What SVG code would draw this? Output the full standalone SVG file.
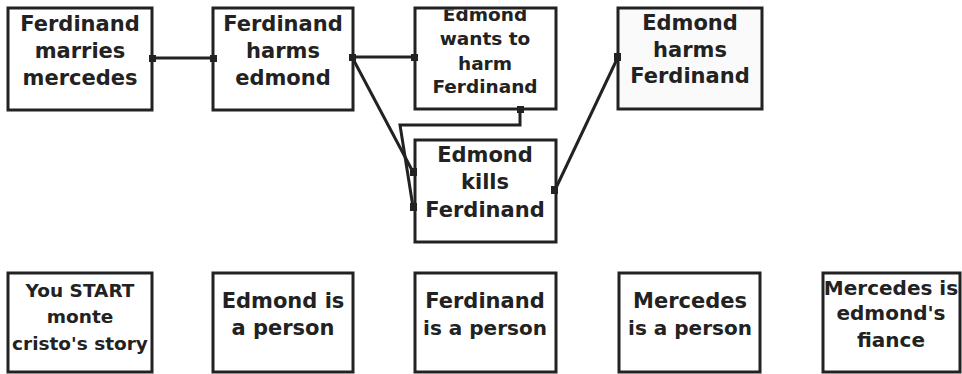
<svg xmlns="http://www.w3.org/2000/svg" width="962" height="374" viewBox="0 0 962 374">
  <style>
    .box { fill: #ffffff; stroke: #222222; stroke-width: 3; }
    .lbl { font-family: "DejaVu Sans", "Liberation Sans", sans-serif; font-weight: bold; font-size: 21px; fill: #222222; text-anchor: middle; }
    .sm { font-size: 18.5px; }
    .md { font-size: 20px; }
    .wire { fill: none; stroke: #222222; stroke-width: 3; stroke-linejoin: miter; }
    .pin { fill: #222222; }
  </style>
  <defs>
    <clipPath id="clip-wants">
      <rect x="416" y="9.5" width="139" height="98"/>
    </clipPath>
  </defs>
  <rect width="962" height="374" fill="#ffffff"/>

  <g id="node-marries">
    <rect class="box" x="8" y="8" width="144" height="102"/>
    <text class="lbl" x="80" y="31">Ferdinand</text>
    <text class="lbl" x="80" y="58">marries</text>
    <text class="lbl" x="80" y="85">mercedes</text>
  </g>

  <g id="node-harms-edmond">
    <rect class="box" x="213" y="8" width="140" height="102"/>
    <text class="lbl" x="283" y="31">Ferdinand</text>
    <text class="lbl" x="283" y="58">harms</text>
    <text class="lbl" x="283" y="85">edmond</text>
  </g>

  <g id="node-wants-to-harm">
    <rect class="box" x="415" y="8" width="141" height="101"/>
    <g clip-path="url(#clip-wants)">
      <text class="lbl sm" x="485" y="21">Edmond</text>
      <text class="lbl sm" x="485" y="45">wants to</text>
      <text class="lbl sm" x="485" y="70">harm</text>
      <text class="lbl sm" x="485" y="93">Ferdinand</text>
    </g>
  </g>

  <g id="node-harms-ferdinand">
    <rect class="box" x="618" y="8" width="144" height="101" style="fill:#fafafa"/>
    <text class="lbl" x="690" y="30">Edmond</text>
    <text class="lbl" x="690" y="57">harms</text>
    <text class="lbl" x="690" y="83">Ferdinand</text>
  </g>

  <g id="node-kills">
    <rect class="box" x="415" y="140" width="141" height="102"/>
    <text class="lbl" x="485" y="162">Edmond</text>
    <text class="lbl" x="485" y="189">kills</text>
    <text class="lbl" x="485" y="217">Ferdinand</text>
  </g>

  <g id="node-start">
    <rect class="box" x="8" y="273" width="144" height="99"/>
    <text class="lbl sm" x="80" y="297">You START</text>
    <text class="lbl sm" x="80" y="323">monte</text>
    <text class="lbl sm" x="80" y="350">cristo's story</text>
  </g>

  <g id="node-edmond-person">
    <rect class="box" x="213" y="273" width="140" height="99"/>
    <text class="lbl" x="283" y="308">Edmond is</text>
    <text class="lbl" x="283" y="335">a person</text>
  </g>

  <g id="node-ferdinand-person">
    <rect class="box" x="415" y="273" width="141" height="99"/>
    <text class="lbl" x="485" y="308">Ferdinand</text>
    <text class="lbl md" x="485" y="335">is a person</text>
  </g>

  <g id="node-mercedes-person">
    <rect class="box" x="619" y="273" width="141" height="99"/>
    <text class="lbl" x="690" y="308">Mercedes</text>
    <text class="lbl md" x="690" y="335">is a person</text>
  </g>

  <g id="node-fiance">
    <rect class="box" x="823" y="273" width="137" height="99"/>
    <text class="lbl md" x="891" y="295">Mercedes is</text>
    <text class="lbl md" x="891" y="320">edmond's</text>
    <text class="lbl md" x="891" y="347">fiance</text>
  </g>

  <!-- connectors between story events, drawn over the box borders -->
  <g id="connectors">
    <line class="wire" x1="152" y1="58" x2="213" y2="58"/>
    <line class="wire" x1="352" y1="57" x2="415" y2="57"/>
    <line class="wire" x1="352" y1="57" x2="413" y2="172"/>
    <polyline class="wire" points="520,109 520,125 400,125 413,207"/>
    <line class="wire" x1="555" y1="190" x2="618" y2="57"/>
    <!-- endpoint pins -->
    <rect class="pin" x="149" y="55" width="7" height="7"/>
    <rect class="pin" x="210" y="55" width="7" height="7"/>
    <rect class="pin" x="349" y="54" width="7" height="7"/>
    <rect class="pin" x="411" y="54" width="7" height="7"/>
    <rect class="pin" x="410" y="168" width="7" height="8"/>
    <rect class="pin" x="410" y="203" width="7" height="8"/>
    <rect class="pin" x="517" y="106" width="7" height="7"/>
    <rect class="pin" x="551" y="186" width="7" height="8"/>
    <rect class="pin" x="614" y="53" width="7" height="8"/>
  </g>
</svg>
